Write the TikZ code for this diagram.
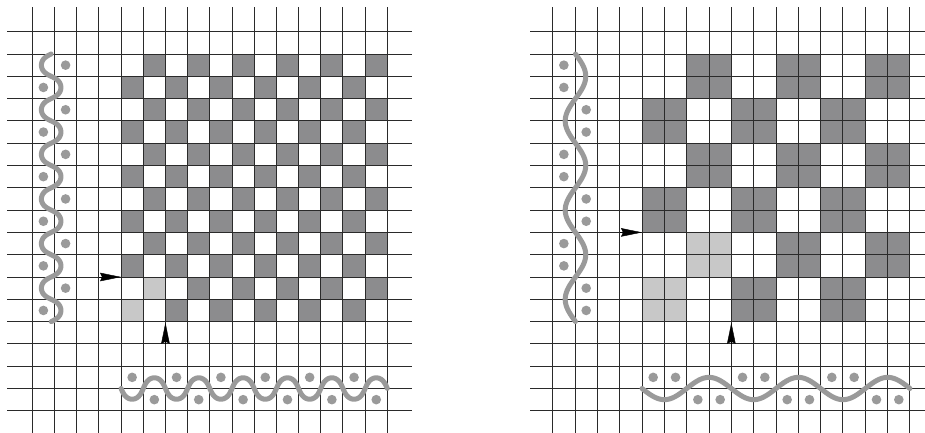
\documentclass[tikz,border=0pt]{standalone}
\usetikzlibrary{arrows.meta}
\definecolor{gridline}{HTML}{2A2A2A}
\definecolor{darkfill}{HTML}{8C8C8E}
\definecolor{lightfill}{HTML}{C8C8C8}
\definecolor{wavegray}{HTML}{9A9A9A}
\tikzset{
  gridln/.style={draw=gridline, line width=1.4pt},
  darkcell/.style={fill=darkfill},
  lightcell/.style={fill=lightfill},
  wave/.style={draw=wavegray, line width=5pt, line cap=round},
  bead/.style={fill=wavegray},
  pointer/.style={-{Stealth[length=21pt,width=8.5pt,inset=2pt]}, line width=0.4pt, black},
}
\begin{document}
\begin{tikzpicture}[x=1pt,y=-1pt,
  declare function={along(\u)=\u-0.055*sin(360*\u);}]
\fill[white] (0,0) rectangle (925,432);
\useasboundingbox (0,0) rectangle (925,432);
\clip (0,0) rectangle (925,432);

% ---------------- left panel: cells ----------------
\begin{scope}[shift={(32.3pt,-31.7pt)}, x=22.19pt, y=-22.3pt]
  \foreach \j in {1,...,12}{
    \foreach \i in {4,...,15}{
      \pgfmathtruncatemacro\pp{mod(\i+\j,2)}
      \ifnum\pp=0 \fill[darkcell] (\i,\j) rectangle ++(1,1);\fi
    }
  }
  \fill[lightcell] (5,11) rectangle ++(1,1);
  \fill[lightcell] (4,12) rectangle ++(1,1);
\end{scope}

% ---------------- right panel: cells ----------------
\begin{scope}[shift={(552.7pt,-31.7pt)}, x=22.33pt, y=-22.3pt]
  \foreach \j in {1,...,12}{
    \foreach \i in {4,...,15}{
      \pgfmathtruncatemacro\pp{mod(floor((\i-4)/2)+floor((\j-1)/2),2)}
      \ifnum\pp=1 \fill[darkcell] (\i,\j) rectangle ++(1,1);\fi
    }
  }
  \fill[lightcell] (6,9) rectangle ++(2,2);
  \fill[lightcell] (4,11) rectangle ++(2,2);
\end{scope}

% ---------------- grid lines (pixel-snapped) ----------------
\foreach \i in {0,...,16}{
  \pgfmathsetmacro\xl{floor(32.3+22.19*\i)+0.5}
  \pgfmathsetmacro\xr{floor(552.7+22.33*\i)+0.5}
  \draw[gridln] (\xl,7) -- (\xl,433);
  \draw[gridln] (\xr,7) -- (\xr,433);
}
\foreach \j in {0,...,17}{
  \pgfmathsetmacro\yy{floor(31.7+22.3*\j)+0.5}
  \draw[gridln] (7,\yy) -- (412,\yy);
  \draw[gridln] (530,\yy) -- (926,\yy);
}

% ---------------- left panel: waves, beads, arrows ----------------
\begin{scope}[shift={(32.3pt,-31.7pt)}, x=22.19pt, y=-22.3pt]
  \draw[wave] plot[variable=\t, domain=0:12, samples=289, smooth] ({0.85-0.44*sin(180*\t)},{1+along(\t)});
  \foreach \j in {1,...,12}{
    \pgfmathtruncatemacro\cc{mod(\j,2)}
    \fill[bead] (\cc+0.5,\j+0.5) circle[radius=4.8pt];
  }
  \draw[wave] plot[variable=\t, domain=0:12, samples=289, smooth] ({4+along(\t)},{16+0.48*sin(180*\t)});
  \foreach \i in {4,...,15}{
    \pgfmathtruncatemacro\rr{15+mod(\i,2)}
    \fill[bead] (\i+0.5,\rr+0.5) circle[radius=4.8pt];
  }
  \coordinate (LAs) at (3,11);
  \coordinate (LAe) at (4,11);
  \draw[pointer] (LAs) -- (LAe);
  \coordinate (LBs) at (6,14);
  \coordinate (LBe) at (6,13.05);
  \draw[pointer] (LBs) -- (LBe);
\end{scope}

% ---------------- right panel: waves, beads, arrows ----------------
\begin{scope}[shift={(552.7pt,-31.7pt)}, x=22.33pt, y=-22.3pt]
  \draw[wave] plot[variable=\t, domain=1:13, samples=241, smooth] ({1.02+0.46*sin(90*(\t-1))},\t);
  \foreach \j in {1,...,12}{
    \pgfmathtruncatemacro\cc{mod(floor((\j-1)/2),2)}
    \fill[bead] (\cc+0.5,\j+0.5) circle[radius=4.8pt];
  }
  \draw[wave] plot[variable=\t, domain=4:16, samples=241, smooth] (\t,{16+0.5*sin(90*(\t-4))});
  \foreach \i in {4,...,15}{
    \pgfmathtruncatemacro\rr{15+mod(floor((\i-4)/2),2)}
    \fill[bead] (\i+0.5,\rr+0.5) circle[radius=4.8pt];
  }
  \coordinate (RAs) at (3,9);
  \coordinate (RAe) at (4,9);
  \draw[pointer] (RAs) -- (RAe);
  \coordinate (RBs) at (8,14);
  \coordinate (RBe) at (8,13.05);
  \draw[pointer] (RBs) -- (RBe);
\end{scope}
\end{tikzpicture}
\end{document}
